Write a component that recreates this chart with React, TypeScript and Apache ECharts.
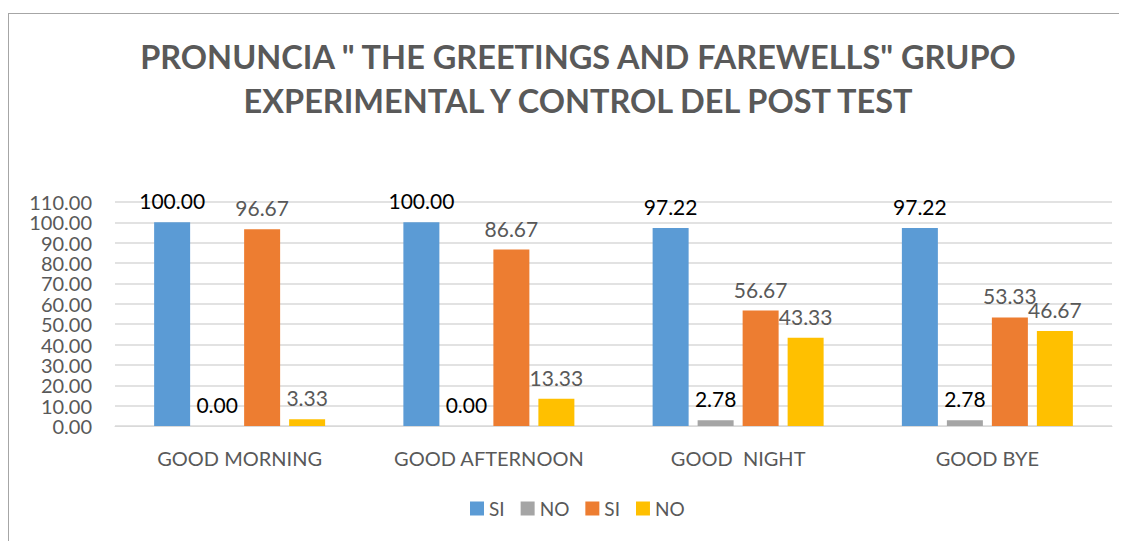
import React, { useEffect, useRef } from "react";
import * as echarts from "echarts";

const titleText = 'PRONUNCIA " THE GREETINGS AND FAREWELLS" GRUPO\nEXPERIMENTAL Y CONTROL DEL POST TEST';
const categories = ["GOOD MORNING", "GOOD AFTERNOON", "GOOD  NIGHT", "GOOD BYE"];
const seriesNames = ["SI", "NO", "SI", "NO"];
const siExperimental = [100, 100, 97.22, 97.22];
const noExperimental = [0, 0, 2.78, 2.78];
const siControl = [96.67, 86.67, 56.67, 53.33];
const noControl = [3.33, 13.33, 43.33, 46.67];
const seriesData = [siExperimental, noExperimental, siControl, noControl];
const colors = ["#5B9BD5", "#A5A5A5", "#ED7D31", "#FFC000"];
const labelColors = ["#000000", "#000000", "#595959", "#595959"];

const FONT = "Lato, 'Open Sans', sans-serif";

export default function App() {
  const ref = useRef<HTMLDivElement>(null);
  useEffect(() => {
    if (!ref.current) return;
    const chart = echarts.init(ref.current, null, { renderer: "svg" });
    const keys = seriesNames.map((n, i) => `${n}_${i}`);
    chart.setOption({
      animation: false,
      textStyle: { fontFamily: FONT },
      title: {
        text: titleText,
        left: 564,
        textAlign: "center",
        top: 15,
        textStyle: {
          fontFamily: FONT,
          fontSize: 32.5,
          fontWeight: "bold",
          color: "#595959",
          lineHeight: 44,
        },
      },
      legend: {
        data: keys,
        top: 480,
        left: 456,
        itemWidth: 14,
        itemHeight: 14,
        itemGap: 16,
        icon: "rect",
        formatter: (name: string) => name.split("_")[0],
        textStyle: { fontFamily: FONT, fontSize: 19, color: "#595959" },
      },
      grid: { left: 106, right: 15, top: 188, bottom: 115, containLabel: false },
      xAxis: {
        type: "category",
        data: categories,
        axisLine: { show: true, lineStyle: { color: "#D9D9D9", width: 1 } },
        axisTick: { show: false },
        axisLabel: { fontFamily: FONT, fontSize: 20, color: "#595959", margin: 22 },
      },
      yAxis: {
        type: "value",
        min: 0,
        max: 110,
        interval: 10,
        axisLine: { show: false },
        axisTick: { show: false },
        splitLine: { lineStyle: { color: "#D9D9D9", width: 1.5 } },
        axisLabel: {
          fontFamily: FONT,
          fontSize: 20,
          lineHeight: 19,
          color: "#595959",
          margin: 23,
          showMinLabel: true,
          showMaxLabel: true,
          hideOverlap: false,
          formatter: (v: number) => v.toFixed(2),
        },
      },
      series: seriesData.map((d, i) => ({
        type: "bar",
        name: keys[i],
        data: d,
        barWidth: 36,
        barGap: "25%",
        itemStyle: { color: colors[i] },
        label: {
          show: true,
          position: "top",
          distance: 11,
          fontFamily: FONT,
          fontSize: 21,
          color: labelColors[i],
          formatter: (p: any) => Number(p.value).toFixed(2),
        },
      })),
    });
    return () => chart.dispose();
  }, []);
  return (
    <div
      ref={ref}
      style={{
        marginTop: 5,
        width: 1119,
        height: 528,
        borderTop: "1.5px solid #A6A6A6",
        borderLeft: "1.5px solid #A6A6A6",
        boxSizing: "border-box",
      }}
    />
  );
}
